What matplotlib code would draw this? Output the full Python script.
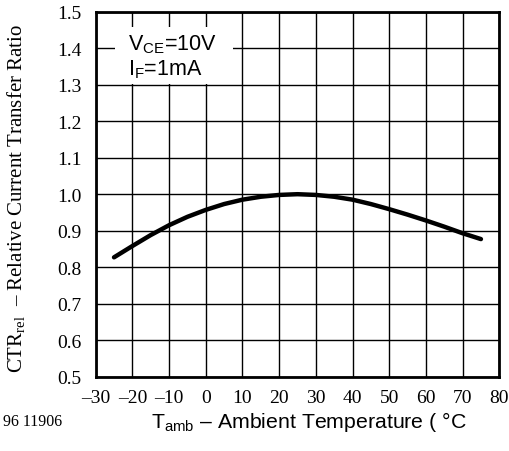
import numpy as np
import matplotlib
matplotlib.use("Agg")
import matplotlib.pyplot as plt
from matplotlib.patches import Rectangle

plt.rcParams['mathtext.fontset'] = 'custom'
plt.rcParams['mathtext.rm'] = 'Liberation Serif'
plt.rcParams['mathtext.sf'] = 'Liberation Sans'

# CTR vs ambient temperature
t_amb = [-25, -20, -15, -10, -5, 0, 5, 10, 15, 20, 25, 30, 35, 40, 45, 50, 55, 60, 65, 70, 75]
ctr_rel = [0.827, 0.858, 0.888, 0.915, 0.938, 0.957, 0.973, 0.985, 0.993, 0.998, 1.000,
           0.998, 0.993, 0.985, 0.973, 0.959, 0.944, 0.928, 0.911, 0.893, 0.877]
x_ticks = [-30, -20, -10, 0, 10, 20, 30, 40, 50, 60, 70, 80]
y_ticks = [0.5, 0.6, 0.7, 0.8, 0.9, 1.0, 1.1, 1.2, 1.3, 1.4, 1.5]

fig = plt.figure(figsize=(5.1, 4.52), dpi=100)
ax = fig.add_axes([0.1876, 0.1644, 0.7914, 0.8075])

ax.plot(t_amb, ctr_rel, color='black', lw=3.2, solid_capstyle='round', zorder=3)

ax.set_xlim(-30, 80)
ax.set_ylim(0.5, 1.5)
ax.set_xticks(x_ticks)
ax.set_yticks(y_ticks)
ax.set_xticklabels([str(v).replace('-', '\u2013') for v in x_ticks], family='Liberation Serif', fontsize=14)
ax.set_yticklabels(['%.1f' % v for v in y_ticks], family='Liberation Serif', fontsize=14)
ax.tick_params(axis='y', length=0, pad=10)
ax.tick_params(axis='x', length=0, pad=9)
ax.set_axisbelow(True)
ax.grid(True, color='black', lw=1.0)
for s in ax.spines.values():
    s.set_linewidth(2.0)
    s.set_zorder(5)

# white box behind the conditions text
ax.add_patch(Rectangle((-24.7, 1.303), 32.1, 0.155, facecolor='white', edgecolor='none', zorder=1))
ax.text(-21.3, 1.411, r'$\mathsf{V_{CE}}$=10V', family='Liberation Sans', fontsize=15.5,
        va='center', ha='left', zorder=4)
ax.text(-21.3, 1.343, r'$\mathsf{I_F}$=1mA', family='Liberation Sans', fontsize=15.5,
        va='center', ha='left', zorder=4)

fig.text(16 / 510, 1 - 199 / 452, r'$\mathrm{CTR_{rel}}$  ' + '\u2013 Relative Current Transfer Ratio',
         family='Liberation Serif', fontsize=15, rotation=90, ha='center', va='center')
fig.text(309 / 510, 1 - 422 / 452, r'$\mathsf{T_{amb}}$ ' + '\u2013 Ambient Temperature ( \u00b0C',
         family='Liberation Sans', fontsize=15.3, ha='center', va='center')
fig.text(3 / 510, 1 - 422 / 452, '96 11906', family='Liberation Serif', fontsize=11.5,
         ha='left', va='center')

fig.savefig('out.png', dpi=100)
